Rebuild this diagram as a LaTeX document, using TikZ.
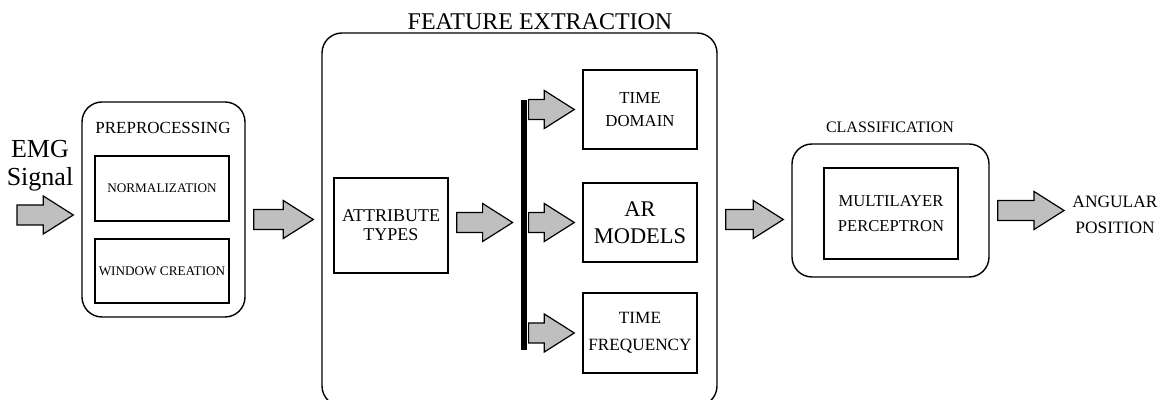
\documentclass[tikz,border=0pt]{standalone}
\usepackage{fontspec}
\setmainfont{Liberation Serif}
\usetikzlibrary{calc}

\newcommand\fsz[2]{\fontsize{#1}{#2}\selectfont}

\tikzset{
  block/.style={draw, line width=0.7pt, inner sep=0pt, align=center},
  group/.style={draw, line width=0.7pt, rounded corners=10pt},
  caption/.style={inner sep=0pt, align=center},
  barrow/.style={draw, line width=0.6pt, fill=gray!50, to path={
    let \p1=(\tikztostart), \p2=(\tikztotarget) in
    (\x1+4pt,\y1+5pt) -- (\x2-19pt,\y1+5pt) -- (\x2-19pt,\y1+9.5pt)
    -- (\x2-4pt,\y1) -- (\x2-19pt,\y1-9.5pt) -- (\x2-19pt,\y1-5pt)
    -- (\x1+4pt,\y1-5pt) -- cycle}}
}

\begin{document}
\begin{tikzpicture}[x=0.5pt,y=-0.5pt]
% Page frame (1162 x 400 px)
\path[use as bounding box, clip] (0,0) rectangle (1162,400);

% Input
\node[caption, font=\fsz{13}{14}] (emg) at (40,166) {EMG\\Signal};
\coordinate (emgin) at (9,215);

% Preprocessing
\node[group, minimum width=81.5pt, minimum height=107.5pt] (pre) at (163.5,209.5) {};
\node[caption, font=\fsz{8.5}{10}] (prelabel) at (163,128) {PREPROCESSING};
\node[block, minimum width=67pt, minimum height=32.5pt, font=\fsz{6.6}{8}] (norm) at (162,188.5) {NORMALIZATION};
\node[block, minimum width=67pt, minimum height=32pt, font=\fsz{6.6}{8}] (win) at (162,271) {WINDOW CREATION};

% Feature extraction
\node[group, minimum width=197.5pt, minimum height=186.5pt] (fe) at (519.5,219.5) {};
\node[caption, font=\fsz{12}{14}] (felabel) at (540,22) {FEATURE EXTRACTION};
\node[block, minimum width=57pt, minimum height=47.5pt, font=\fsz{9}{9.5}] (attr) at (391,225.5) {ATTRIBUTE\\TYPES};
\node[block, minimum width=57pt, minimum height=39.5pt, font=\fsz{8.4}{11.5}] (td) at (640,109.5) {TIME\\DOMAIN};
\node[block, minimum width=57pt, minimum height=39.5pt, font=\fsz{11.2}{13.5}] (ar) at (640,222.5) {AR\\MODELS};
\node[block, minimum width=57pt, minimum height=40pt, font=\fsz{8.6}{13.5}] (tf) at (640,333) {TIME\\FREQUENCY};

% Splitting bar
\node[fill, minimum width=3pt, minimum height=125pt, inner sep=0pt] (bar) at (524,225) {};

% Classification
\node[group, minimum width=98.5pt, minimum height=66.5pt] (cls) at (890.5,210.5) {};
\node[caption, font=\fsz{8}{10}] (clslabel) at (890,127) {CLASSIFICATION};
\node[block, minimum width=67pt, minimum height=45.5pt, font=\fsz{8.3}{12.5}] (mlp) at (891,213.5) {MULTILAYER\\PERCEPTRON};

% Output
\node[caption, font=\fsz{8.7}{13}] (out) at (1115,215) {ANGULAR\\POSITION};

% Block arrows
\draw[barrow] (emgin) to (emgin -| pre.west);
\draw[barrow] (pre.east |- fe.west) to (fe.west);
\draw[barrow] (attr.east |- ar.west) to (ar.west -| bar.west);
\draw[barrow] (bar.west |- td.west) to (td.west);
\draw[barrow] (bar.west |- ar.west) to (ar.west);
\draw[barrow] (bar.west |- tf.west) to (tf.west);
\draw[barrow] (fe.east) to (fe.east -| cls.west);
\draw[barrow] (cls.east) to (cls.east -| out.west);

\end{tikzpicture}
\end{document}
